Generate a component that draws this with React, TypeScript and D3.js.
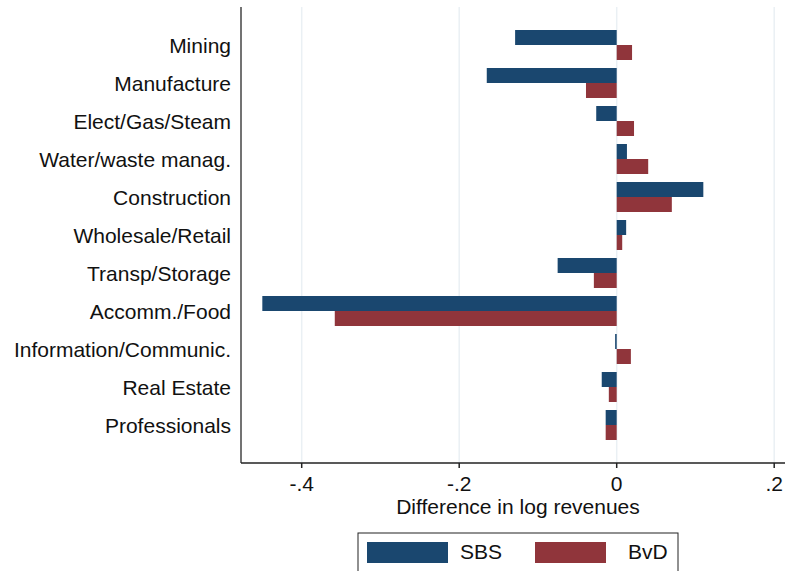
import React from 'react';
import * as d3 from 'd3';

const categories = [
  'Mining',
  'Manufacture',
  'Elect/Gas/Steam',
  'Water/waste manag.',
  'Construction',
  'Wholesale/Retail',
  'Transp/Storage',
  'Accomm./Food',
  'Information/Communic.',
  'Real Estate',
  'Professionals',
];

const sbsValues = [-0.129, -0.165, -0.026, 0.013, 0.110, 0.012, -0.075, -0.450, -0.002, -0.019, -0.014];
const bvdValues = [0.0195, -0.039, 0.022, 0.040, 0.070, 0.007, -0.029, -0.358, 0.018, -0.010, -0.014];

const xTicks = [-0.4, -0.2, 0, 0.2];
const xTickLabels = ['-.4', '-.2', '0', '.2'];

const series = [
  { name: 'SBS', values: sbsValues, color: '#1a476f' },
  { name: 'BvD', values: bvdValues, color: '#90353b' },
];

const W = 785;
const H = 571;
const plot = { left: 241, right: 785, top: 7, bottom: 463 };
const font = '"Liberation Sans", Arial, sans-serif';
const fs = 21;

export default function App() {
  const x = d3.scaleLinear().domain([-0.4, 0]).range([301.7, 616.7]);
  const y = d3.scalePoint<string>().domain(categories).range([plot.top, plot.bottom]).padding(1);
  const barH = 15;

  return (
    <svg
      width={W}
      height={H}
      style={{ position: 'absolute', left: 0, top: 0, background: '#fff' }}
      fontFamily={font}
    >
      <rect width={W} height={H} fill="#fff" />
      {/* grid */}
      {xTicks.map(t => (
        <line key={`g${t}`} x1={x(t)} x2={x(t)} y1={plot.top} y2={plot.bottom} stroke="#eaf0f4" strokeWidth={1.5} />
      ))}
      {/* bars */}
      {series.map((s, si) =>
        s.values.map((v, i) => {
          const cy = y(categories[i])!;
          const x0 = x(Math.min(0, v));
          const x1 = x(Math.max(0, v));
          return (
            <rect
              key={`${s.name}${i}`}
              x={x0}
              y={si === 0 ? cy - barH : cy}
              width={Math.max(x1 - x0, 1)}
              height={barH}
              fill={s.color}
            />
          );
        })
      )}
      {/* y axis */}
      <line x1={plot.left} x2={plot.left} y1={plot.top} y2={plot.bottom} stroke="#444" strokeWidth={1.5} />
      {categories.map(c => (
        <text key={c} x={231} y={y(c)! + 7.5} textAnchor="end" fontSize={fs} fill="#111">
          {c}
        </text>
      ))}
      {/* x axis */}
      <line x1={plot.left} x2={plot.right} y1={plot.bottom} y2={plot.bottom} stroke="#222" strokeWidth={1.5} />
      {xTicks.map((t, i) => (
        <g key={`t${t}`}>
          <line x1={x(t)} x2={x(t)} y1={plot.bottom} y2={plot.bottom + 5} stroke="#222" strokeWidth={1.5} />
          <text x={x(t)} y={490.5} textAnchor="middle" fontSize={fs} fill="#111">
            {xTickLabels[i]}
          </text>
        </g>
      ))}
      <text x={518} y={514} textAnchor="middle" fontSize={fs} fill="#111">
        Difference in log revenues
      </text>
      {/* legend */}
      <rect x={358} y={533} width={320} height={50} fill="#fff" stroke="#222" strokeWidth={1} />
      {series.map((s, i) => (
        <g key={s.name}>
          <rect x={i === 0 ? 367 : 535} y={542} width={i === 0 ? 81 : 71} height={21} fill={s.color} />
          <text x={i === 0 ? 460 : 628} y={559} fontSize={fs} fill="#111">
            {s.name}
          </text>
        </g>
      ))}
    </svg>
  );
}
